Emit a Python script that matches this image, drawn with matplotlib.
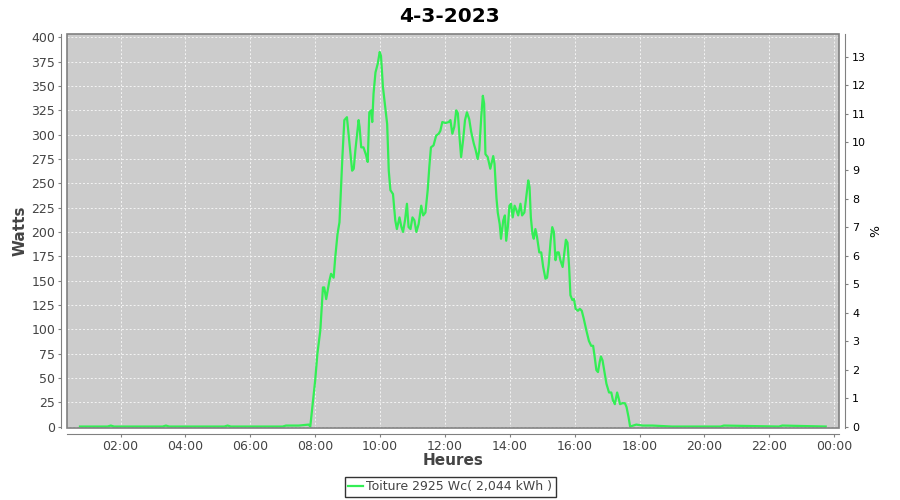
#!/usr/bin/env python
# -*- coding: utf-8 -*-

"""
Daily production curve of the roof panels, 4-3-2023.
"""

import matplotlib
matplotlib.use("Agg")
import matplotlib.pyplot as plt
from matplotlib.patches import Rectangle

# -- data (hour of day, watts)
hours = [0.75, 1.60, 1.70, 1.80, 3.30, 3.40, 3.50, 5.20, 5.30, 5.40, 7.00,
         7.10, 7.50, 7.80, 7.85,
         8.00, 8.07, 8.16, 8.24, 8.28, 8.34, 8.44, 8.49, 8.57, 8.62, 8.69,
         8.75, 8.80, 8.84, 8.90, 8.98, 9.06, 9.14, 9.19, 9.24, 9.34, 9.37,
         9.42, 9.49, 9.57, 9.62, 9.67, 9.73, 9.76, 9.80, 9.86, 9.93, 9.99,
         10.03, 10.09, 10.16, 10.22, 10.27, 10.32, 10.40, 10.47, 10.52,
         10.60, 10.66, 10.71, 10.77, 10.83, 10.88, 10.94, 11.00, 11.06,
         11.12, 11.19, 11.27, 11.33, 11.40, 11.47, 11.52, 11.57, 11.65,
         11.73, 11.81, 11.86, 11.92, 12.02, 12.12, 12.17, 12.23, 12.29,
         12.35, 12.40, 12.45, 12.50, 12.56, 12.62, 12.68, 12.75, 12.81,
         12.89, 12.95, 13.01, 13.06, 13.12, 13.17, 13.21, 13.25, 13.32,
         13.40, 13.49, 13.53, 13.59, 13.63, 13.69, 13.73, 13.80, 13.85,
         13.89, 13.94, 13.99, 14.04, 14.09, 14.15, 14.21, 14.26, 14.33,
         14.38, 14.45, 14.52, 14.57, 14.61, 14.65, 14.70, 14.74, 14.79,
         14.84, 14.91, 14.97, 15.03, 15.10, 15.15, 15.20, 15.26, 15.31,
         15.36, 15.41, 15.46, 15.51, 15.56, 15.63, 15.69, 15.73, 15.78,
         15.83, 15.87, 15.93, 15.98, 16.03, 16.10, 16.16, 16.22, 16.28,
         16.36, 16.44, 16.51, 16.57, 16.62, 16.67, 16.72, 16.77, 16.81,
         16.86, 16.92, 16.98, 17.06, 17.13, 17.18, 17.24, 17.31, 17.35,
         17.40, 17.47, 17.55, 17.60, 17.66, 17.71,
         17.90, 18.10, 18.40, 19.00, 20.50, 20.60, 22.30, 22.40, 23.74]
watts = [0, 0, 1, 0, 0, 1, 0, 0, 1, 0, 0,
         1, 1, 2, 0,
         47, 75, 99, 143, 143, 131, 150, 157, 153, 174, 198,
         210, 246, 277, 315, 318, 291, 263, 265, 284, 315, 308,
         287, 287, 279, 272, 323, 325, 313, 342, 364, 373, 385,
         381, 349, 328, 311, 263, 243, 239, 212, 203,
         215, 205, 200, 212, 229, 205, 203, 215, 212,
         200, 208, 227, 217, 220, 243, 267, 287, 289,
         299, 301, 304, 313, 312, 313, 315, 301, 308,
         325, 322, 298, 277, 294, 315, 323, 316, 303,
         291, 284, 275, 284, 318, 340, 332, 280, 277,
         265, 278, 270, 235, 220, 208, 193, 212, 217,
         191, 205, 227, 229, 215, 227, 222, 217, 229,
         217, 220, 239, 253, 246, 215, 198, 193, 203,
         195, 179, 179, 164, 152, 153, 166, 191, 205,
         200, 171, 179, 179, 171, 164, 181, 192, 189,
         164, 135, 130, 131, 121, 119, 121, 119, 111,
         99, 88, 83, 83, 71, 58, 56, 66, 72,
         68, 56, 44, 35, 35, 27, 23, 35, 30,
         23, 24, 24, 20, 10, 0,
         2, 1, 1, 0, 0, 1, 0, 1, 0]

xticks = [2, 4, 6, 8, 10, 12, 14, 16, 18, 20, 22, 24]
xlabels = ["%02d:00" % (h % 24) for h in xticks]
wticks = list(range(0, 401, 25))
pticks = list(range(0, 14))
peak_wc = 2925.0
label = "Toiture 2925 Wc( 2,044 kWh )"

if __name__ == "__main__":

    grey = "#444444"
    line = "#808080"

    fig = plt.figure(figsize=(9, 5), dpi=100)
    ax = fig.add_axes([67 / 900., 1 - 428 / 500., (839 - 67) / 900., (428 - 34) / 500.])
    ax.set_facecolor("#cccccc")

    # -- the curve
    ax.plot(hours, watts, color="#33ee55", lw=1.6, label=label, zorder=3)

    ax.set_xlim(0.35, 24.15)
    ax.set_ylim(-1.5, 403.5)
    ax.set_xticks(xticks)
    ax.set_xticklabels(xlabels)
    ax.set_yticks(wticks)

    ax.grid(True, color="#f4f4f4", lw=0.7, ls=(0, (2, 2)))
    ax.set_axisbelow(True)

    for s in ["top", "right"]:
        ax.spines[s].set_visible(False)
    for s in ["left", "bottom"]:
        ax.spines[s].set_position(("outward", 4))
        ax.spines[s].set_color(line)
    ax.tick_params(colors=line, labelcolor=grey, labelsize=9, length=2.5,
                   width=0.8, pad=2)

    # -- plot outline
    ax.add_patch(Rectangle((0, 0), 1, 1, transform=ax.transAxes, fill=False,
                           edgecolor=line, lw=1.2, clip_on=False, zorder=4))

    ax.set_ylabel("Watts", color=grey, fontsize=11, fontweight="bold", labelpad=3)
    ax.set_xlabel("Heures", color=grey, fontsize=11, fontweight="bold", labelpad=0)

    # -- percent axis
    ax2 = ax.twinx()
    ax2.set_ylim(ax.get_ylim()[0] / peak_wc * 100, ax.get_ylim()[1] / peak_wc * 100)
    ax2.set_yticks(pticks)
    for s in ["top", "left", "bottom"]:
        ax2.spines[s].set_visible(False)
    ax2.spines["right"].set_position(("outward", 4))
    ax2.spines["right"].set_color(line)
    ax2.tick_params(colors=line, labelcolor="black", labelsize=8, length=2.5,
                    width=0.8, pad=3)
    ax2.set_ylabel("%", color="black", fontsize=9, labelpad=2)

    fig.suptitle("4-3-2023", x=0.5, y=0.985, fontsize=14.5, fontweight="bold")

    leg = fig.legend(loc="lower center", bbox_to_anchor=(0.5, 0.006), fontsize=9,
                     frameon=True, fancybox=False, edgecolor="black",
                     handlelength=1.2, handletextpad=0.2, borderpad=0.3,
                     borderaxespad=0, labelcolor=grey)
    leg.get_frame().set_linewidth(1.0)

    fig.savefig("out.png", dpi=100)
